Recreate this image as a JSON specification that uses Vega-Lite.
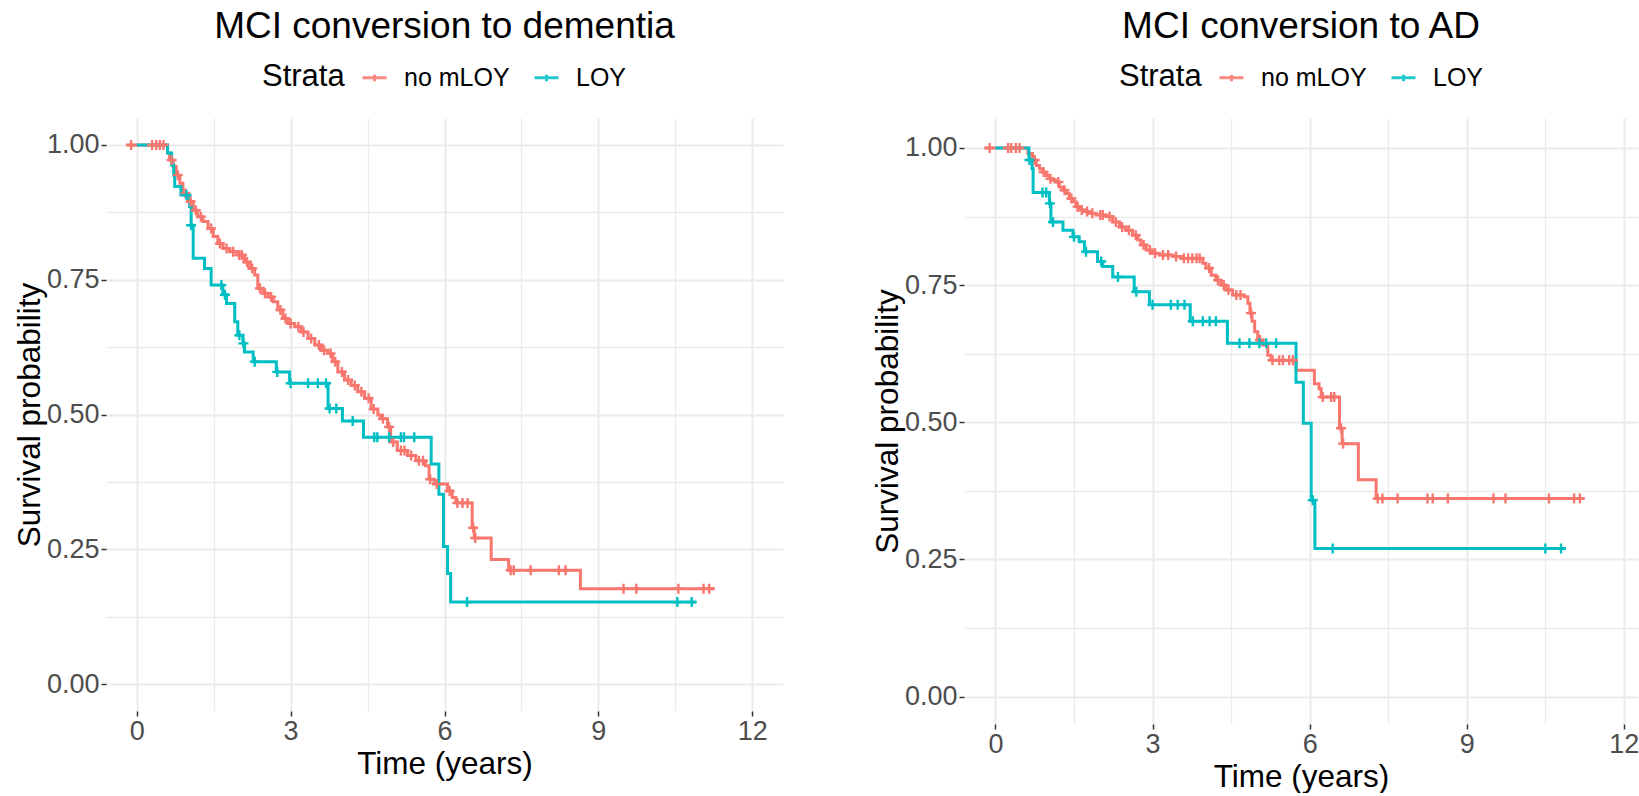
{
  "$schema": "https://vega.github.io/schema/vega-lite/v6.json",
  "padding": {"left": 14, "top": 8, "right": 0, "bottom": 0},
  "datasets": {
    "steps": [
      {"panel": "dementia", "strata": "no mLOY", "time": -0.2, "surv": 1},
      {"panel": "dementia", "strata": "no mLOY", "time": 0.6, "surv": 0.985},
      {"panel": "dementia", "strata": "no mLOY", "time": 0.64, "surv": 0.972},
      {"panel": "dementia", "strata": "no mLOY", "time": 0.71, "surv": 0.96},
      {"panel": "dementia", "strata": "no mLOY", "time": 0.77, "surv": 0.944},
      {"panel": "dementia", "strata": "no mLOY", "time": 0.84, "surv": 0.929},
      {"panel": "dementia", "strata": "no mLOY", "time": 0.9, "surv": 0.91},
      {"panel": "dementia", "strata": "no mLOY", "time": 1.0, "surv": 0.895},
      {"panel": "dementia", "strata": "no mLOY", "time": 1.1, "surv": 0.879},
      {"panel": "dementia", "strata": "no mLOY", "time": 1.19, "surv": 0.867},
      {"panel": "dementia", "strata": "no mLOY", "time": 1.29, "surv": 0.858},
      {"panel": "dementia", "strata": "no mLOY", "time": 1.39, "surv": 0.845},
      {"panel": "dementia", "strata": "no mLOY", "time": 1.49, "surv": 0.83},
      {"panel": "dementia", "strata": "no mLOY", "time": 1.58, "surv": 0.817},
      {"panel": "dementia", "strata": "no mLOY", "time": 1.68, "surv": 0.808},
      {"panel": "dementia", "strata": "no mLOY", "time": 1.81, "surv": 0.802},
      {"panel": "dementia", "strata": "no mLOY", "time": 1.97, "surv": 0.796},
      {"panel": "dementia", "strata": "no mLOY", "time": 2.1, "surv": 0.783},
      {"panel": "dementia", "strata": "no mLOY", "time": 2.2, "surv": 0.771},
      {"panel": "dementia", "strata": "no mLOY", "time": 2.3, "surv": 0.759},
      {"panel": "dementia", "strata": "no mLOY", "time": 2.36, "surv": 0.734},
      {"panel": "dementia", "strata": "no mLOY", "time": 2.46, "surv": 0.725},
      {"panel": "dementia", "strata": "no mLOY", "time": 2.56, "surv": 0.718},
      {"panel": "dementia", "strata": "no mLOY", "time": 2.66, "surv": 0.709},
      {"panel": "dementia", "strata": "no mLOY", "time": 2.75, "surv": 0.694},
      {"panel": "dementia", "strata": "no mLOY", "time": 2.85, "surv": 0.678},
      {"panel": "dementia", "strata": "no mLOY", "time": 2.95, "surv": 0.669},
      {"panel": "dementia", "strata": "no mLOY", "time": 3.08, "surv": 0.663},
      {"panel": "dementia", "strata": "no mLOY", "time": 3.21, "surv": 0.653},
      {"panel": "dementia", "strata": "no mLOY", "time": 3.34, "surv": 0.641},
      {"panel": "dementia", "strata": "no mLOY", "time": 3.47, "surv": 0.629},
      {"panel": "dementia", "strata": "no mLOY", "time": 3.6, "surv": 0.619},
      {"panel": "dementia", "strata": "no mLOY", "time": 3.73, "surv": 0.613},
      {"panel": "dementia", "strata": "no mLOY", "time": 3.82, "surv": 0.598},
      {"panel": "dementia", "strata": "no mLOY", "time": 3.92, "surv": 0.579},
      {"panel": "dementia", "strata": "no mLOY", "time": 4.05, "surv": 0.564},
      {"panel": "dementia", "strata": "no mLOY", "time": 4.18, "surv": 0.554},
      {"panel": "dementia", "strata": "no mLOY", "time": 4.31, "surv": 0.542},
      {"panel": "dementia", "strata": "no mLOY", "time": 4.44, "surv": 0.53},
      {"panel": "dementia", "strata": "no mLOY", "time": 4.57, "surv": 0.51},
      {"panel": "dementia", "strata": "no mLOY", "time": 4.7, "surv": 0.499},
      {"panel": "dementia", "strata": "no mLOY", "time": 4.76, "surv": 0.492},
      {"panel": "dementia", "strata": "no mLOY", "time": 4.89, "surv": 0.477},
      {"panel": "dementia", "strata": "no mLOY", "time": 4.95, "surv": 0.449},
      {"panel": "dementia", "strata": "no mLOY", "time": 5.08, "surv": 0.433},
      {"panel": "dementia", "strata": "no mLOY", "time": 5.28, "surv": 0.424},
      {"panel": "dementia", "strata": "no mLOY", "time": 5.44, "surv": 0.414},
      {"panel": "dementia", "strata": "no mLOY", "time": 5.63, "surv": 0.405},
      {"panel": "dementia", "strata": "no mLOY", "time": 5.7, "surv": 0.38},
      {"panel": "dementia", "strata": "no mLOY", "time": 5.8, "surv": 0.371},
      {"panel": "dementia", "strata": "no mLOY", "time": 6.06, "surv": 0.358},
      {"panel": "dementia", "strata": "no mLOY", "time": 6.15, "surv": 0.346},
      {"panel": "dementia", "strata": "no mLOY", "time": 6.22, "surv": 0.336},
      {"panel": "dementia", "strata": "no mLOY", "time": 6.54, "surv": 0.29},
      {"panel": "dementia", "strata": "no mLOY", "time": 6.58, "surv": 0.271},
      {"panel": "dementia", "strata": "no mLOY", "time": 6.91, "surv": 0.231},
      {"panel": "dementia", "strata": "no mLOY", "time": 7.25, "surv": 0.211},
      {"panel": "dementia", "strata": "no mLOY", "time": 8.65, "surv": 0.177},
      {"panel": "dementia", "strata": "no mLOY", "time": 11.27, "surv": 0.177},
      {"panel": "dementia", "strata": "LOY", "time": 0, "surv": 1},
      {"panel": "dementia", "strata": "LOY", "time": 0.6, "surv": 0.985},
      {"panel": "dementia", "strata": "LOY", "time": 0.68, "surv": 0.963},
      {"panel": "dementia", "strata": "LOY", "time": 0.72, "surv": 0.944},
      {"panel": "dementia", "strata": "LOY", "time": 0.74, "surv": 0.923},
      {"panel": "dementia", "strata": "LOY", "time": 0.86, "surv": 0.907},
      {"panel": "dementia", "strata": "LOY", "time": 1.03, "surv": 0.886},
      {"panel": "dementia", "strata": "LOY", "time": 1.06, "surv": 0.851},
      {"panel": "dementia", "strata": "LOY", "time": 1.1, "surv": 0.79},
      {"panel": "dementia", "strata": "LOY", "time": 1.32, "surv": 0.771},
      {"panel": "dementia", "strata": "LOY", "time": 1.45, "surv": 0.74},
      {"panel": "dementia", "strata": "LOY", "time": 1.68, "surv": 0.722},
      {"panel": "dementia", "strata": "LOY", "time": 1.75, "surv": 0.706},
      {"panel": "dementia", "strata": "LOY", "time": 1.91, "surv": 0.672},
      {"panel": "dementia", "strata": "LOY", "time": 1.97, "surv": 0.647},
      {"panel": "dementia", "strata": "LOY", "time": 2.07, "surv": 0.632},
      {"panel": "dementia", "strata": "LOY", "time": 2.1, "surv": 0.616},
      {"panel": "dementia", "strata": "LOY", "time": 2.27, "surv": 0.598},
      {"panel": "dementia", "strata": "LOY", "time": 2.72, "surv": 0.579},
      {"panel": "dementia", "strata": "LOY", "time": 2.98, "surv": 0.558},
      {"panel": "dementia", "strata": "LOY", "time": 3.73, "surv": 0.511},
      {"panel": "dementia", "strata": "LOY", "time": 4.01, "surv": 0.488},
      {"panel": "dementia", "strata": "LOY", "time": 4.42, "surv": 0.458},
      {"panel": "dementia", "strata": "LOY", "time": 5.74, "surv": 0.408},
      {"panel": "dementia", "strata": "LOY", "time": 5.89, "surv": 0.352},
      {"panel": "dementia", "strata": "LOY", "time": 5.98, "surv": 0.255},
      {"panel": "dementia", "strata": "LOY", "time": 6.06, "surv": 0.205},
      {"panel": "dementia", "strata": "LOY", "time": 6.12, "surv": 0.152},
      {"panel": "dementia", "strata": "LOY", "time": 10.91, "surv": 0.152},
      {"panel": "AD", "strata": "no mLOY", "time": -0.21, "surv": 1},
      {"panel": "AD", "strata": "no mLOY", "time": 0.62, "surv": 0.99},
      {"panel": "AD", "strata": "no mLOY", "time": 0.71, "surv": 0.978},
      {"panel": "AD", "strata": "no mLOY", "time": 0.78, "surv": 0.968},
      {"panel": "AD", "strata": "no mLOY", "time": 0.84, "surv": 0.962},
      {"panel": "AD", "strata": "no mLOY", "time": 0.9, "surv": 0.956},
      {"panel": "AD", "strata": "no mLOY", "time": 0.97, "surv": 0.95},
      {"panel": "AD", "strata": "no mLOY", "time": 1.03, "surv": 0.944},
      {"panel": "AD", "strata": "no mLOY", "time": 1.1, "surv": 0.941},
      {"panel": "AD", "strata": "no mLOY", "time": 1.16, "surv": 0.938},
      {"panel": "AD", "strata": "no mLOY", "time": 1.22, "surv": 0.929},
      {"panel": "AD", "strata": "no mLOY", "time": 1.29, "surv": 0.923},
      {"panel": "AD", "strata": "no mLOY", "time": 1.35, "surv": 0.917},
      {"panel": "AD", "strata": "no mLOY", "time": 1.41, "surv": 0.908},
      {"panel": "AD", "strata": "no mLOY", "time": 1.48, "surv": 0.902},
      {"panel": "AD", "strata": "no mLOY", "time": 1.54, "surv": 0.893},
      {"panel": "AD", "strata": "no mLOY", "time": 1.6, "surv": 0.887},
      {"panel": "AD", "strata": "no mLOY", "time": 1.7, "surv": 0.884},
      {"panel": "AD", "strata": "no mLOY", "time": 1.79, "surv": 0.881},
      {"panel": "AD", "strata": "no mLOY", "time": 1.92, "surv": 0.878},
      {"panel": "AD", "strata": "no mLOY", "time": 2.11, "surv": 0.875},
      {"panel": "AD", "strata": "no mLOY", "time": 2.24, "surv": 0.865},
      {"panel": "AD", "strata": "no mLOY", "time": 2.37, "surv": 0.856},
      {"panel": "AD", "strata": "no mLOY", "time": 2.5, "surv": 0.85},
      {"panel": "AD", "strata": "no mLOY", "time": 2.62, "surv": 0.841},
      {"panel": "AD", "strata": "no mLOY", "time": 2.72, "surv": 0.832},
      {"panel": "AD", "strata": "no mLOY", "time": 2.78, "surv": 0.823},
      {"panel": "AD", "strata": "no mLOY", "time": 2.88, "surv": 0.814},
      {"panel": "AD", "strata": "no mLOY", "time": 3.0, "surv": 0.808},
      {"panel": "AD", "strata": "no mLOY", "time": 3.13, "surv": 0.805},
      {"panel": "AD", "strata": "no mLOY", "time": 3.39, "surv": 0.802},
      {"panel": "AD", "strata": "no mLOY", "time": 3.55, "surv": 0.799},
      {"panel": "AD", "strata": "no mLOY", "time": 3.96, "surv": 0.79},
      {"panel": "AD", "strata": "no mLOY", "time": 4.02, "surv": 0.781},
      {"panel": "AD", "strata": "no mLOY", "time": 4.12, "surv": 0.768},
      {"panel": "AD", "strata": "no mLOY", "time": 4.21, "surv": 0.759},
      {"panel": "AD", "strata": "no mLOY", "time": 4.31, "surv": 0.75},
      {"panel": "AD", "strata": "no mLOY", "time": 4.4, "surv": 0.741},
      {"panel": "AD", "strata": "no mLOY", "time": 4.53, "surv": 0.732},
      {"panel": "AD", "strata": "no mLOY", "time": 4.75, "surv": 0.729},
      {"panel": "AD", "strata": "no mLOY", "time": 4.82, "surv": 0.717},
      {"panel": "AD", "strata": "no mLOY", "time": 4.86, "surv": 0.699},
      {"panel": "AD", "strata": "no mLOY", "time": 4.9, "surv": 0.684},
      {"panel": "AD", "strata": "no mLOY", "time": 4.95, "surv": 0.665},
      {"panel": "AD", "strata": "no mLOY", "time": 5.01, "surv": 0.65},
      {"panel": "AD", "strata": "no mLOY", "time": 5.1, "surv": 0.641},
      {"panel": "AD", "strata": "no mLOY", "time": 5.2, "surv": 0.622},
      {"panel": "AD", "strata": "no mLOY", "time": 5.26, "surv": 0.613},
      {"panel": "AD", "strata": "no mLOY", "time": 5.74, "surv": 0.595},
      {"panel": "AD", "strata": "no mLOY", "time": 6.09, "surv": 0.57},
      {"panel": "AD", "strata": "no mLOY", "time": 6.18, "surv": 0.561},
      {"panel": "AD", "strata": "no mLOY", "time": 6.22, "surv": 0.546},
      {"panel": "AD", "strata": "no mLOY", "time": 6.57, "surv": 0.489},
      {"panel": "AD", "strata": "no mLOY", "time": 6.62, "surv": 0.461},
      {"panel": "AD", "strata": "no mLOY", "time": 6.93, "surv": 0.395},
      {"panel": "AD", "strata": "no mLOY", "time": 7.27, "surv": 0.361},
      {"panel": "AD", "strata": "no mLOY", "time": 11.24, "surv": 0.361},
      {"panel": "AD", "strata": "LOY", "time": 0, "surv": 1},
      {"panel": "AD", "strata": "LOY", "time": 0.64, "surv": 0.978},
      {"panel": "AD", "strata": "LOY", "time": 0.7, "surv": 0.962},
      {"panel": "AD", "strata": "LOY", "time": 0.72, "surv": 0.919},
      {"panel": "AD", "strata": "LOY", "time": 1.03, "surv": 0.899},
      {"panel": "AD", "strata": "LOY", "time": 1.06, "surv": 0.865},
      {"panel": "AD", "strata": "LOY", "time": 1.29, "surv": 0.85},
      {"panel": "AD", "strata": "LOY", "time": 1.48, "surv": 0.838},
      {"panel": "AD", "strata": "LOY", "time": 1.6, "surv": 0.829},
      {"panel": "AD", "strata": "LOY", "time": 1.7, "surv": 0.811},
      {"panel": "AD", "strata": "LOY", "time": 1.95, "surv": 0.793},
      {"panel": "AD", "strata": "LOY", "time": 2.05, "surv": 0.784},
      {"panel": "AD", "strata": "LOY", "time": 2.24, "surv": 0.765},
      {"panel": "AD", "strata": "LOY", "time": 2.65, "surv": 0.738},
      {"panel": "AD", "strata": "LOY", "time": 2.94, "surv": 0.714},
      {"panel": "AD", "strata": "LOY", "time": 3.72, "surv": 0.684},
      {"panel": "AD", "strata": "LOY", "time": 4.43, "surv": 0.644},
      {"panel": "AD", "strata": "LOY", "time": 5.74, "surv": 0.573},
      {"panel": "AD", "strata": "LOY", "time": 5.88, "surv": 0.498},
      {"panel": "AD", "strata": "LOY", "time": 6.03, "surv": 0.358},
      {"panel": "AD", "strata": "LOY", "time": 6.1, "surv": 0.27},
      {"panel": "AD", "strata": "LOY", "time": 10.89, "surv": 0.27}
    ],
    "censors": [
      {"panel": "dementia", "strata": "no mLOY", "time": -0.11, "surv": 1},
      {"panel": "dementia", "strata": "no mLOY", "time": 0.3, "surv": 1},
      {"panel": "dementia", "strata": "no mLOY", "time": 0.38, "surv": 1},
      {"panel": "dementia", "strata": "no mLOY", "time": 0.45, "surv": 1},
      {"panel": "dementia", "strata": "no mLOY", "time": 0.52, "surv": 1},
      {"panel": "dementia", "strata": "no mLOY", "time": 0.68, "surv": 0.972},
      {"panel": "dementia", "strata": "no mLOY", "time": 0.8, "surv": 0.944},
      {"panel": "dementia", "strata": "no mLOY", "time": 0.95, "surv": 0.91},
      {"panel": "dementia", "strata": "no mLOY", "time": 1.05, "surv": 0.895},
      {"panel": "dementia", "strata": "no mLOY", "time": 1.15, "surv": 0.879},
      {"panel": "dementia", "strata": "no mLOY", "time": 1.25, "surv": 0.867},
      {"panel": "dementia", "strata": "no mLOY", "time": 1.45, "surv": 0.845},
      {"panel": "dementia", "strata": "no mLOY", "time": 1.62, "surv": 0.817},
      {"panel": "dementia", "strata": "no mLOY", "time": 1.75, "surv": 0.808},
      {"panel": "dementia", "strata": "no mLOY", "time": 1.88, "surv": 0.802},
      {"panel": "dementia", "strata": "no mLOY", "time": 2.0, "surv": 0.796},
      {"panel": "dementia", "strata": "no mLOY", "time": 2.05, "surv": 0.796},
      {"panel": "dementia", "strata": "no mLOY", "time": 2.15, "surv": 0.783},
      {"panel": "dementia", "strata": "no mLOY", "time": 2.25, "surv": 0.771},
      {"panel": "dementia", "strata": "no mLOY", "time": 2.4, "surv": 0.734},
      {"panel": "dementia", "strata": "no mLOY", "time": 2.5, "surv": 0.725},
      {"panel": "dementia", "strata": "no mLOY", "time": 2.62, "surv": 0.718},
      {"panel": "dementia", "strata": "no mLOY", "time": 2.8, "surv": 0.694},
      {"panel": "dementia", "strata": "no mLOY", "time": 2.9, "surv": 0.678},
      {"panel": "dementia", "strata": "no mLOY", "time": 3.0, "surv": 0.669},
      {"panel": "dementia", "strata": "no mLOY", "time": 3.15, "surv": 0.663},
      {"panel": "dementia", "strata": "no mLOY", "time": 3.25, "surv": 0.653},
      {"panel": "dementia", "strata": "no mLOY", "time": 3.4, "surv": 0.641},
      {"panel": "dementia", "strata": "no mLOY", "time": 3.55, "surv": 0.629},
      {"panel": "dementia", "strata": "no mLOY", "time": 3.65, "surv": 0.619},
      {"panel": "dementia", "strata": "no mLOY", "time": 3.78, "surv": 0.613},
      {"panel": "dementia", "strata": "no mLOY", "time": 3.87, "surv": 0.598},
      {"panel": "dementia", "strata": "no mLOY", "time": 4.0, "surv": 0.579},
      {"panel": "dementia", "strata": "no mLOY", "time": 4.12, "surv": 0.564},
      {"panel": "dementia", "strata": "no mLOY", "time": 4.25, "surv": 0.554},
      {"panel": "dementia", "strata": "no mLOY", "time": 4.38, "surv": 0.542},
      {"panel": "dementia", "strata": "no mLOY", "time": 4.52, "surv": 0.53},
      {"panel": "dementia", "strata": "no mLOY", "time": 4.62, "surv": 0.51},
      {"panel": "dementia", "strata": "no mLOY", "time": 4.8, "surv": 0.492},
      {"panel": "dementia", "strata": "no mLOY", "time": 4.92, "surv": 0.477},
      {"panel": "dementia", "strata": "no mLOY", "time": 5.0, "surv": 0.449},
      {"panel": "dementia", "strata": "no mLOY", "time": 5.15, "surv": 0.433},
      {"panel": "dementia", "strata": "no mLOY", "time": 5.22, "surv": 0.433},
      {"panel": "dementia", "strata": "no mLOY", "time": 5.35, "surv": 0.424},
      {"panel": "dementia", "strata": "no mLOY", "time": 5.5, "surv": 0.414},
      {"panel": "dementia", "strata": "no mLOY", "time": 5.58, "surv": 0.414},
      {"panel": "dementia", "strata": "no mLOY", "time": 5.72, "surv": 0.38},
      {"panel": "dementia", "strata": "no mLOY", "time": 5.85, "surv": 0.371},
      {"panel": "dementia", "strata": "no mLOY", "time": 6.1, "surv": 0.358},
      {"panel": "dementia", "strata": "no mLOY", "time": 6.25, "surv": 0.336},
      {"panel": "dementia", "strata": "no mLOY", "time": 6.35, "surv": 0.336},
      {"panel": "dementia", "strata": "no mLOY", "time": 6.45, "surv": 0.336},
      {"panel": "dementia", "strata": "no mLOY", "time": 6.56, "surv": 0.29},
      {"panel": "dementia", "strata": "no mLOY", "time": 6.6, "surv": 0.271},
      {"panel": "dementia", "strata": "no mLOY", "time": 7.29, "surv": 0.211},
      {"panel": "dementia", "strata": "no mLOY", "time": 7.35, "surv": 0.211},
      {"panel": "dementia", "strata": "no mLOY", "time": 7.68, "surv": 0.211},
      {"panel": "dementia", "strata": "no mLOY", "time": 8.23, "surv": 0.211},
      {"panel": "dementia", "strata": "no mLOY", "time": 8.36, "surv": 0.211},
      {"panel": "dementia", "strata": "no mLOY", "time": 9.49, "surv": 0.177},
      {"panel": "dementia", "strata": "no mLOY", "time": 9.74, "surv": 0.177},
      {"panel": "dementia", "strata": "no mLOY", "time": 10.56, "surv": 0.177},
      {"panel": "dementia", "strata": "no mLOY", "time": 11.05, "surv": 0.177},
      {"panel": "dementia", "strata": "no mLOY", "time": 11.16, "surv": 0.177},
      {"panel": "dementia", "strata": "LOY", "time": 0.97, "surv": 0.907},
      {"panel": "dementia", "strata": "LOY", "time": 1.06, "surv": 0.851},
      {"panel": "dementia", "strata": "LOY", "time": 1.65, "surv": 0.74},
      {"panel": "dementia", "strata": "LOY", "time": 1.72, "surv": 0.722},
      {"panel": "dementia", "strata": "LOY", "time": 2.0, "surv": 0.647},
      {"panel": "dementia", "strata": "LOY", "time": 2.08, "surv": 0.632},
      {"panel": "dementia", "strata": "LOY", "time": 2.3, "surv": 0.598},
      {"panel": "dementia", "strata": "LOY", "time": 2.74, "surv": 0.579},
      {"panel": "dementia", "strata": "LOY", "time": 3.0, "surv": 0.558},
      {"panel": "dementia", "strata": "LOY", "time": 3.34, "surv": 0.558},
      {"panel": "dementia", "strata": "LOY", "time": 3.53, "surv": 0.558},
      {"panel": "dementia", "strata": "LOY", "time": 3.69, "surv": 0.558},
      {"panel": "dementia", "strata": "LOY", "time": 3.76, "surv": 0.511},
      {"panel": "dementia", "strata": "LOY", "time": 3.89, "surv": 0.511},
      {"panel": "dementia", "strata": "LOY", "time": 4.21, "surv": 0.488},
      {"panel": "dementia", "strata": "LOY", "time": 4.63, "surv": 0.458},
      {"panel": "dementia", "strata": "LOY", "time": 4.69, "surv": 0.458},
      {"panel": "dementia", "strata": "LOY", "time": 4.92, "surv": 0.458},
      {"panel": "dementia", "strata": "LOY", "time": 5.15, "surv": 0.458},
      {"panel": "dementia", "strata": "LOY", "time": 5.21, "surv": 0.458},
      {"panel": "dementia", "strata": "LOY", "time": 5.41, "surv": 0.458},
      {"panel": "dementia", "strata": "LOY", "time": 6.44, "surv": 0.152},
      {"panel": "dementia", "strata": "LOY", "time": 10.54, "surv": 0.152},
      {"panel": "dementia", "strata": "LOY", "time": 10.82, "surv": 0.152},
      {"panel": "AD", "strata": "no mLOY", "time": -0.11, "surv": 1},
      {"panel": "AD", "strata": "no mLOY", "time": 0.24, "surv": 1},
      {"panel": "AD", "strata": "no mLOY", "time": 0.3, "surv": 1},
      {"panel": "AD", "strata": "no mLOY", "time": 0.39, "surv": 1},
      {"panel": "AD", "strata": "no mLOY", "time": 0.46, "surv": 1},
      {"panel": "AD", "strata": "no mLOY", "time": 0.75, "surv": 0.978},
      {"panel": "AD", "strata": "no mLOY", "time": 0.92, "surv": 0.956},
      {"panel": "AD", "strata": "no mLOY", "time": 1.05, "surv": 0.944},
      {"panel": "AD", "strata": "no mLOY", "time": 1.2, "surv": 0.938},
      {"panel": "AD", "strata": "no mLOY", "time": 1.32, "surv": 0.923},
      {"panel": "AD", "strata": "no mLOY", "time": 1.45, "surv": 0.908},
      {"panel": "AD", "strata": "no mLOY", "time": 1.57, "surv": 0.893},
      {"panel": "AD", "strata": "no mLOY", "time": 1.65, "surv": 0.887},
      {"panel": "AD", "strata": "no mLOY", "time": 1.75, "surv": 0.884},
      {"panel": "AD", "strata": "no mLOY", "time": 1.85, "surv": 0.881},
      {"panel": "AD", "strata": "no mLOY", "time": 2.0, "surv": 0.878},
      {"panel": "AD", "strata": "no mLOY", "time": 2.05, "surv": 0.878},
      {"panel": "AD", "strata": "no mLOY", "time": 2.18, "surv": 0.875},
      {"panel": "AD", "strata": "no mLOY", "time": 2.3, "surv": 0.865},
      {"panel": "AD", "strata": "no mLOY", "time": 2.42, "surv": 0.856},
      {"panel": "AD", "strata": "no mLOY", "time": 2.55, "surv": 0.85},
      {"panel": "AD", "strata": "no mLOY", "time": 2.68, "surv": 0.841},
      {"panel": "AD", "strata": "no mLOY", "time": 2.83, "surv": 0.823},
      {"panel": "AD", "strata": "no mLOY", "time": 2.95, "surv": 0.814},
      {"panel": "AD", "strata": "no mLOY", "time": 3.05, "surv": 0.808},
      {"panel": "AD", "strata": "no mLOY", "time": 3.2, "surv": 0.805},
      {"panel": "AD", "strata": "no mLOY", "time": 3.3, "surv": 0.805},
      {"panel": "AD", "strata": "no mLOY", "time": 3.45, "surv": 0.802},
      {"panel": "AD", "strata": "no mLOY", "time": 3.6, "surv": 0.799},
      {"panel": "AD", "strata": "no mLOY", "time": 3.68, "surv": 0.799},
      {"panel": "AD", "strata": "no mLOY", "time": 3.76, "surv": 0.799},
      {"panel": "AD", "strata": "no mLOY", "time": 3.84, "surv": 0.799},
      {"panel": "AD", "strata": "no mLOY", "time": 3.9, "surv": 0.799},
      {"panel": "AD", "strata": "no mLOY", "time": 4.08, "surv": 0.781},
      {"panel": "AD", "strata": "no mLOY", "time": 4.25, "surv": 0.759},
      {"panel": "AD", "strata": "no mLOY", "time": 4.36, "surv": 0.75},
      {"panel": "AD", "strata": "no mLOY", "time": 4.45, "surv": 0.741},
      {"panel": "AD", "strata": "no mLOY", "time": 4.6, "surv": 0.732},
      {"panel": "AD", "strata": "no mLOY", "time": 4.68, "surv": 0.732},
      {"panel": "AD", "strata": "no mLOY", "time": 4.88, "surv": 0.699},
      {"panel": "AD", "strata": "no mLOY", "time": 5.05, "surv": 0.65},
      {"panel": "AD", "strata": "no mLOY", "time": 5.29, "surv": 0.613},
      {"panel": "AD", "strata": "no mLOY", "time": 5.42, "surv": 0.613},
      {"panel": "AD", "strata": "no mLOY", "time": 5.49, "surv": 0.613},
      {"panel": "AD", "strata": "no mLOY", "time": 5.61, "surv": 0.613},
      {"panel": "AD", "strata": "no mLOY", "time": 5.68, "surv": 0.613},
      {"panel": "AD", "strata": "no mLOY", "time": 6.25, "surv": 0.546},
      {"panel": "AD", "strata": "no mLOY", "time": 6.41, "surv": 0.546},
      {"panel": "AD", "strata": "no mLOY", "time": 6.47, "surv": 0.546},
      {"panel": "AD", "strata": "no mLOY", "time": 6.6, "surv": 0.489},
      {"panel": "AD", "strata": "no mLOY", "time": 6.64, "surv": 0.461},
      {"panel": "AD", "strata": "no mLOY", "time": 7.3, "surv": 0.361},
      {"panel": "AD", "strata": "no mLOY", "time": 7.39, "surv": 0.361},
      {"panel": "AD", "strata": "no mLOY", "time": 7.68, "surv": 0.361},
      {"panel": "AD", "strata": "no mLOY", "time": 8.25, "surv": 0.361},
      {"panel": "AD", "strata": "no mLOY", "time": 8.35, "surv": 0.361},
      {"panel": "AD", "strata": "no mLOY", "time": 8.64, "surv": 0.361},
      {"panel": "AD", "strata": "no mLOY", "time": 9.51, "surv": 0.361},
      {"panel": "AD", "strata": "no mLOY", "time": 9.74, "surv": 0.361},
      {"panel": "AD", "strata": "no mLOY", "time": 10.57, "surv": 0.361},
      {"panel": "AD", "strata": "no mLOY", "time": 11.05, "surv": 0.361},
      {"panel": "AD", "strata": "no mLOY", "time": 11.16, "surv": 0.361},
      {"panel": "AD", "strata": "LOY", "time": 0.65, "surv": 0.978},
      {"panel": "AD", "strata": "LOY", "time": 0.9, "surv": 0.919},
      {"panel": "AD", "strata": "LOY", "time": 0.97, "surv": 0.919},
      {"panel": "AD", "strata": "LOY", "time": 1.04, "surv": 0.899},
      {"panel": "AD", "strata": "LOY", "time": 1.1, "surv": 0.865},
      {"panel": "AD", "strata": "LOY", "time": 1.5, "surv": 0.838},
      {"panel": "AD", "strata": "LOY", "time": 1.73, "surv": 0.811},
      {"panel": "AD", "strata": "LOY", "time": 2.02, "surv": 0.793},
      {"panel": "AD", "strata": "LOY", "time": 2.34, "surv": 0.765},
      {"panel": "AD", "strata": "LOY", "time": 2.69, "surv": 0.738},
      {"panel": "AD", "strata": "LOY", "time": 3.0, "surv": 0.714},
      {"panel": "AD", "strata": "LOY", "time": 3.35, "surv": 0.714},
      {"panel": "AD", "strata": "LOY", "time": 3.48, "surv": 0.714},
      {"panel": "AD", "strata": "LOY", "time": 3.61, "surv": 0.714},
      {"panel": "AD", "strata": "LOY", "time": 3.77, "surv": 0.684},
      {"panel": "AD", "strata": "LOY", "time": 3.96, "surv": 0.684},
      {"panel": "AD", "strata": "LOY", "time": 4.09, "surv": 0.684},
      {"panel": "AD", "strata": "LOY", "time": 4.21, "surv": 0.684},
      {"panel": "AD", "strata": "LOY", "time": 4.66, "surv": 0.644},
      {"panel": "AD", "strata": "LOY", "time": 4.85, "surv": 0.644},
      {"panel": "AD", "strata": "LOY", "time": 5.04, "surv": 0.644},
      {"panel": "AD", "strata": "LOY", "time": 5.17, "surv": 0.644},
      {"panel": "AD", "strata": "LOY", "time": 5.36, "surv": 0.644},
      {"panel": "AD", "strata": "LOY", "time": 6.06, "surv": 0.358},
      {"panel": "AD", "strata": "LOY", "time": 6.44, "surv": 0.27},
      {"panel": "AD", "strata": "LOY", "time": 10.5, "surv": 0.27},
      {"panel": "AD", "strata": "LOY", "time": 10.8, "surv": 0.27}
    ]
  },
  "hconcat": [
    {
      "title": "MCI conversion to dementia",
      "width": 677,
      "height": 593,
      "encoding": {
        "x": {
          "field": "time",
          "type": "quantitative",
          "scale": {"domain": [-0.6, 12.6], "nice": false, "zero": false},
          "axis": {
            "title": "Time (years)",
            "values": [0, 1.5, 3, 4.5, 6, 7.5, 9, 10.5, 12],
            "labelExpr": "datum.value % 3 === 0 ? datum.label : ''",
            "tickOpacity": {"condition": {"test": "datum.value % 3 === 0", "value": 1}, "value": 0},
            "gridWidth": {"condition": {"test": "datum.value % 3 === 0", "value": 2}, "value": 1.3}
          }
        },
        "y": {
          "field": "surv",
          "type": "quantitative",
          "scale": {"domain": [-0.05, 1.05], "nice": false, "zero": false},
          "axis": {
            "title": "Survival probability",
            "values": [0, 0.125, 0.25, 0.375, 0.5, 0.625, 0.75, 0.875, 1],
            "labelExpr": "(datum.value * 4) % 1 === 0 ? format(datum.value, '.2f') : ''",
            "tickOpacity": {"condition": {"test": "(datum.value * 4) % 1 === 0", "value": 1}, "value": 0},
            "gridWidth": {"condition": {"test": "(datum.value * 4) % 1 === 0", "value": 2}, "value": 1.3}
          }
        },
        "color": {
          "field": "strata",
          "type": "nominal",
          "scale": {"domain": ["no mLOY", "LOY"], "range": ["#F8766D", "#00BFC4"]},
          "legend": {"title": "Strata", "symbolType": "M-1,0H1M0,-0.25V0.3", "symbolSize": 576, "symbolStrokeWidth": 3, "symbolOpacity": 0.85}
        }
      },
      "layer": [
        {
          "data": {"name": "steps"},
          "transform": [{"filter": "datum.panel === 'dementia'"}],
          "mark": {"type": "line", "interpolate": "step-after", "strokeWidth": 3}
        },
        {
          "data": {"name": "censors"},
          "transform": [{"filter": "datum.panel === 'dementia'"}],
          "mark": {"type": "point", "shape": "M-1,0H1M0,-1V1", "filled": false, "strokeWidth": 2.4, "size": 100, "opacity": 1}
        }
      ]
    },
    {
      "title": "MCI conversion to AD",
      "width": 674,
      "height": 606,
      "encoding": {
        "x": {
          "field": "time",
          "type": "quantitative",
          "scale": {"domain": [-0.6, 12.27], "nice": false, "zero": false},
          "axis": {
            "title": "Time (years)",
            "values": [0, 1.5, 3, 4.5, 6, 7.5, 9, 10.5, 12],
            "labelExpr": "datum.value % 3 === 0 ? datum.label : ''",
            "tickOpacity": {"condition": {"test": "datum.value % 3 === 0", "value": 1}, "value": 0},
            "gridWidth": {"condition": {"test": "datum.value % 3 === 0", "value": 2}, "value": 1.3}
          }
        },
        "y": {
          "field": "surv",
          "type": "quantitative",
          "scale": {"domain": [-0.05, 1.0546], "nice": false, "zero": false},
          "axis": {
            "title": "Survival probability",
            "values": [0, 0.125, 0.25, 0.375, 0.5, 0.625, 0.75, 0.875, 1],
            "labelExpr": "(datum.value * 4) % 1 === 0 ? format(datum.value, '.2f') : ''",
            "tickOpacity": {"condition": {"test": "(datum.value * 4) % 1 === 0", "value": 1}, "value": 0},
            "gridWidth": {"condition": {"test": "(datum.value * 4) % 1 === 0", "value": 2}, "value": 1.3}
          }
        },
        "color": {
          "field": "strata",
          "type": "nominal",
          "scale": {"domain": ["no mLOY", "LOY"], "range": ["#F8766D", "#00BFC4"]},
          "legend": {"title": "Strata", "symbolType": "M-1,0H1M0,-0.25V0.3", "symbolSize": 576, "symbolStrokeWidth": 3, "symbolOpacity": 0.85}
        }
      },
      "layer": [
        {
          "data": {"name": "steps"},
          "transform": [{"filter": "datum.panel === 'AD'"}],
          "mark": {"type": "line", "interpolate": "step-after", "strokeWidth": 3}
        },
        {
          "data": {"name": "censors"},
          "transform": [{"filter": "datum.panel === 'AD'"}],
          "mark": {"type": "point", "shape": "M-1,0H1M0,-1V1", "filled": false, "strokeWidth": 2.4, "size": 100, "opacity": 1}
        }
      ]
    }
  ],
  "spacing": 89,
  "resolve": {
    "scale": {"color": "independent", "x": "independent", "y": "independent"},
    "legend": {"color": "independent"}
  },
  "config": {
    "font": "Liberation Sans",
    "view": {"stroke": null},
    "title": {"fontSize": 37, "fontWeight": "normal", "color": "#000000", "anchor": "middle", "offset": 18},
    "axis": {
      "domain": false,
      "gridColor": "#EBEBEB",
      "tickColor": "#333333",
      "tickSize": 5,
      "tickWidth": 1.5,
      "labelFontSize": 27,
      "labelColor": "#4D4D4D",
      "labelPadding": 2,
      "labelOverlap": false,
      "labelFlush": false,
      "titleFontSize": 31.5,
      "titleFontWeight": "normal",
      "titleColor": "#000000"
    },
    "axisY": {"titlePadding": 0},
    "axisX": {"titlePadding": 4},
    "legend": {
      "orient": "top",
      "direction": "horizontal",
      "titleOrient": "left",
      "titleFontSize": 31,
      "titleFontWeight": "normal",
      "titleColor": "#000000",
      "labelFontSize": 25,
      "labelColor": "#000000",
      "offset": 26,
      "titlePadding": 16,
      "columnPadding": 18,
      "labelOffset": 16,
      "layout": {"top": {"anchor": "middle"}}
    }
  }
}
